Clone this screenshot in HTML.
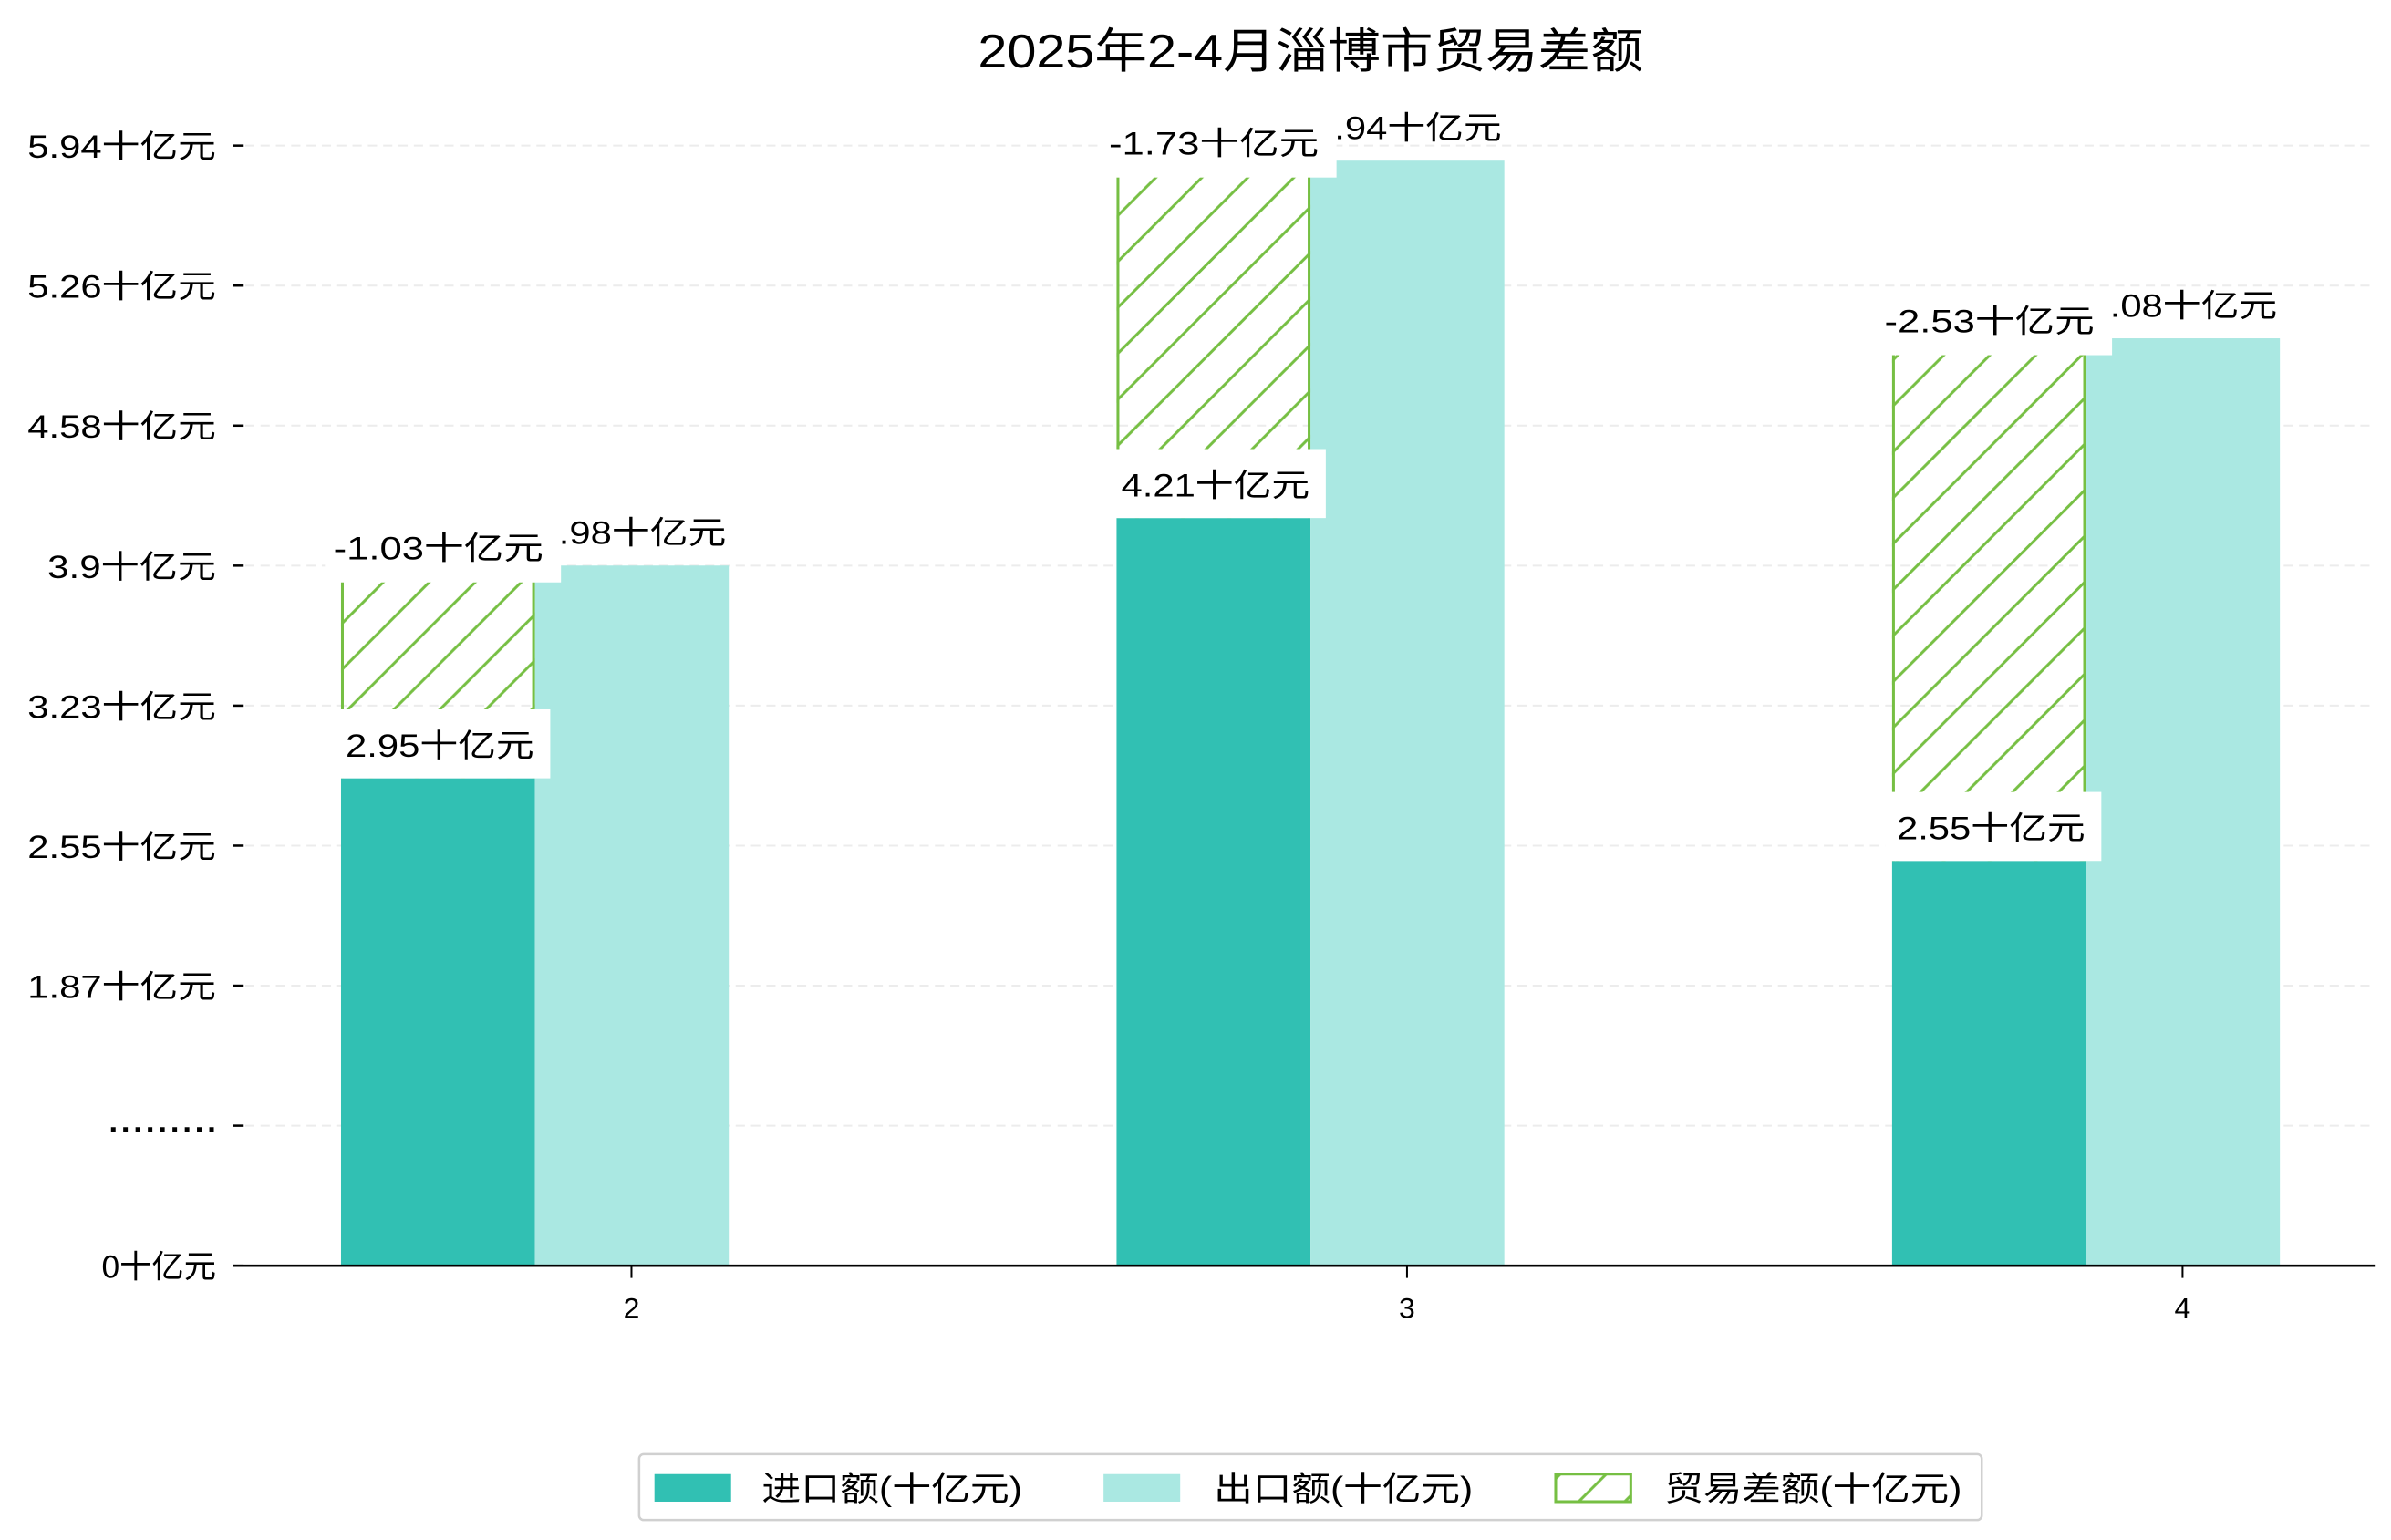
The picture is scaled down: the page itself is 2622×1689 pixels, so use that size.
<!DOCTYPE html>
<html><head><meta charset="utf-8"><style>
html,body{margin:0;padding:0;background:#fff;}
svg{display:block;font-family:"Liberation Sans","Noto Sans CJK SC",sans-serif;}
</style></head><body>
<svg id="chart" width="2622" height="1689" viewBox="0 0 1560 1005" preserveAspectRatio="none" xmlns="http://www.w3.org/2000/svg">
<defs>
<pattern id="hatch" patternUnits="userSpaceOnUse" width="30" height="30">
<line x1="-3" y1="33" x2="33" y2="-3" stroke="#76BF43" stroke-width="1.8"/>
<line x1="-3" y1="3" x2="3" y2="-3" stroke="#76BF43" stroke-width="1.8"/>
<line x1="27" y1="33" x2="33" y2="27" stroke="#76BF43" stroke-width="1.8"/>
</pattern>
</defs>
<text x="855" y="44" text-anchor="middle" font-size="31" textLength="434" lengthAdjust="spacingAndGlyphs">2025年2-4月淄博市贸易差额</text>
<g id="grid"></g><g id="bars"></g><g id="labels"></g><g id="axes"></g>
<g>
<rect x="417" y="949" width="876" height="43" rx="3" fill="#fff" stroke="#d0d0d0" stroke-width="1.5"/>
<rect x="427" y="962" width="50" height="18" fill="#31C0B3"/>
<text x="497" y="979" font-size="22" textLength="170" lengthAdjust="spacingAndGlyphs">进口额(十亿元)</text>
<rect x="720" y="962" width="50" height="18" fill="#AAE8E2"/>
<text x="792" y="979" font-size="22" textLength="169" lengthAdjust="spacingAndGlyphs">出口额(十亿元)</text>
<rect x="1015" y="962" width="49" height="18" fill="url(#hatch)" stroke="#76BF43" stroke-width="1.8"/>
<text x="1086" y="979" font-size="22" textLength="194" lengthAdjust="spacingAndGlyphs">贸易差额(十亿元)</text>
</g>
</svg>
<script>
const months = ['2', '3', '4'];
const imports = [2.95, 4.21, 2.55];
const exports = [3.98, 5.94, 5.08];
const balances = [-1.03, -1.73, -2.53];
const yTickLabels = ['0十亿元', '.........', '1.87十亿元', '2.55十亿元', '3.23十亿元', '3.9十亿元', '4.58十亿元', '5.26十亿元', '5.94十亿元'];

const NS = 'http://www.w3.org/2000/svg';
const X0 = 152, X1 = 1550, BASE = 826, TOP = 95;
const yMin = 0.5905, yMax = 6.013;
function y(v) { return BASE - (v - yMin) / (yMax - yMin) * (BASE - TOP); }
const BW = 126.5;
function xc(i) { return 349 + i * 506; }
function mk(tag, attrs, parent, text) {
  const e = document.createElementNS(NS, tag);
  for (const k in attrs) e.setAttribute(k, attrs[k]);
  if (text !== undefined) e.textContent = text;
  parent.appendChild(e);
  return e;
}
const grid = document.getElementById('grid');
const bars = document.getElementById('bars');
const labels = document.getElementById('labels');
const axes = document.getElementById('axes');

yTickLabels.forEach((lab, i) => {
  const ty = BASE - i * (BASE - TOP) / (yTickLabels.length - 1);
  if (i > 0) {
    const g = mk('line', {x1: 160, x2: X1, y1: ty, y2: ty, stroke: '#ececec', 'stroke-width': 1.2, 'stroke-dasharray': '6 4'}, grid);
    
    
  }
  const tk = mk('line', {x1: 152, x2: 159, y1: ty, y2: ty, stroke: '#000', 'stroke-width': 1.5}, axes);
  
  
  const t = mk('text', {x: 141, y: ty + 8, 'text-anchor': 'end', 'font-size': 21}, axes, lab);
  if (lab.indexOf('.') > 0) { t.setAttribute('textLength', lab.length >= 7 ? 123 : 110); t.setAttribute('lengthAdjust', 'spacingAndGlyphs'); }
  if (lab[0] === '.') { t.setAttribute('y', ty + 4); t.setAttribute('font-weight', 'bold'); t.setAttribute('textLength', 70); t.setAttribute('lengthAdjust', 'spacing'); }
  
  
});

months.forEach((m, i) => {
  const c = xc(i);
  const iTop = y(imports[i]), eTop = y(exports[i]);
  const r1 = mk('rect', {x: c - BW, y: iTop, width: BW, height: BASE - iTop, fill: '#31C0B3'}, bars);
  
  
  const r2 = mk('rect', {x: c, y: eTop, width: BW, height: BASE - eTop, fill: '#AAE8E2'}, bars);
  
  
  const hTop = y(imports[i] - balances[i]);
  const r3 = mk('rect', {x: c - BW, y: hTop, width: BW, height: iTop - hTop, fill: 'url(#hatch)'}, bars);
  
  
  const l1 = mk('line', {x1: c - BW + 0.9, x2: c - BW + 0.9, y1: hTop, y2: iTop, stroke: '#76BF43', 'stroke-width': 1.8}, bars);
  
  
  const l2 = mk('line', {x1: c - 0.9, x2: c - 0.9, y1: hTop, y2: iTop, stroke: '#76BF43', 'stroke-width': 1.8}, bars);
  
  

  const et = mk('text', {x: c + BW / 2, y: eTop - 14, 'text-anchor': 'middle', 'font-size': 21, textLength: 123, lengthAdjust: 'spacingAndGlyphs'}, labels, exports[i].toFixed(2) + '十亿元');
  
  
  const bb = mk('rect', {x: c - 137, y: eTop - 30, width: 154, height: 41, fill: '#fff'}, labels);
  
  
  const bt = mk('text', {x: c - 63, y: eTop - 4, 'text-anchor': 'middle', 'font-size': 21, textLength: 137, lengthAdjust: 'spacingAndGlyphs'}, labels, balances[i].toFixed(2) + '十亿元');
  
  
  const ib = mk('rect', {x: c - 131, y: iTop - 45, width: 141, height: 45, fill: '#fff'}, labels);
  
  
  const it = mk('text', {x: c - 62, y: iTop - 14, 'text-anchor': 'middle', 'font-size': 21, textLength: 123, lengthAdjust: 'spacingAndGlyphs'}, labels, imports[i].toFixed(2) + '十亿元');
  
  

  const xt = mk('line', {x1: c + 63, x2: c + 63, y1: BASE, y2: BASE + 8, stroke: '#000', 'stroke-width': 1.2}, axes);
  
  
  const xl = mk('text', {x: c + 63, y: BASE + 34, 'text-anchor': 'middle', 'font-size': 19}, axes, m);
  
  
});
const ax = mk('line', {x1: X0, x2: X1, y1: BASE, y2: BASE, stroke: '#000', 'stroke-width': 1.6}, axes);


</script>
</body></html>
